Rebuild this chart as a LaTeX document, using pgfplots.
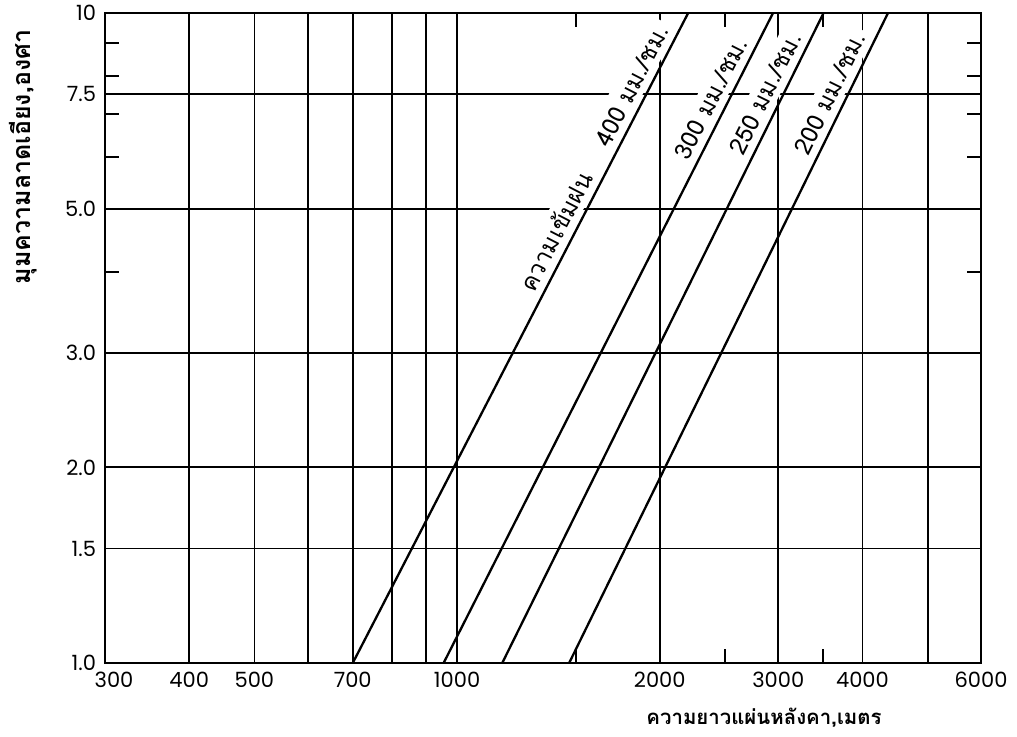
\documentclass[border=0pt]{standalone}
\usepackage{fontspec}
\setmainfont{Poppins}
\newfontfamily\thaifont[Script=Thai]{Loma}
\usepackage{pgfplots}
\pgfplotsset{compat=1.18}

\begin{document}
\begin{tikzpicture}
\path[use as bounding box] (-52.5pt,-36.5pt) rectangle (456pt,331.5pt);
\begin{axis}[
  at={(0,0)}, anchor=south west,
  scale only axis, width=438pt, height=325pt,
  xmode=log, ymode=log,
  xmin=300, xmax=6000, ymin=1, ymax=10,
  xtick={300,400,500,600,700,800,900,1000,2000,3000,4000,5000,6000},
  xticklabels={\hspace*{9pt}300,400,500,,700,,,1000,2000,3000,4000,,6000},
  ytick={1,1.5,2,3,5,7.5,10},
  yticklabels={1.0,1.5,2.0,3.0,5.0,7.5,10},
  minor xtick={1500,2500,3500},
  minor ytick={4,6,7,8,9},
  tick pos=both,
  major tick length=0pt,
  minor tick length=7pt,
  minor tick style={line width=0.9pt, black},
  xmajorgrids, ymajorgrids,
  major grid style={line width=0.9pt, black},
  axis line style={line width=1.4pt},
  xticklabel style={font=\fontsize{10.5}{12}\selectfont, yshift=-1pt},
  yticklabel style={font=\fontsize{10.5}{12}\selectfont, xshift=-1pt},
  clip=false,
]
\addplot[line width=1.15pt] coordinates {(700,1) (2204,10)}
  node[pos=0.765, sloped, above=1pt, fill=white, inner sep=2.5pt, font=\thaifont\fontsize{12}{13}\selectfont] {ความเข้มฝน\hspace{1.4em}400 มม./ชม.};
\addplot[line width=1.15pt] coordinates {(955,1) (2946,10)}
  node[pos=0.857, sloped, above=1pt, fill=white, inner sep=2.5pt, font=\thaifont\fontsize{12}{13}\selectfont] {300 มม./ชม.};
\addplot[line width=1.15pt] coordinates {(1167,1) (3502,10)}
  node[pos=0.865, sloped, above=1pt, fill=white, inner sep=2.5pt, font=\thaifont\fontsize{12}{13}\selectfont] {250 มม./ชม.};
\addplot[line width=1.15pt] coordinates {(1467,1) (4365,10)}
  node[pos=0.865, sloped, above=1pt, fill=white, inner sep=2.5pt, font=\thaifont\fontsize{12}{13}\selectfont] {200 มม./ชม.};
\end{axis}
\node[font=\thaifont\bfseries\fontsize{10.2}{12}\selectfont] at (329.5pt,-27.5pt) {ความยาวแผ่นหลังคา,เมตร};
\node[rotate=90, font=\thaifont\bfseries\fontsize{12.5}{14}\selectfont] at (-41pt,253pt) {มุมความลาดเอียง,องศา};
\end{tikzpicture}
\end{document}
